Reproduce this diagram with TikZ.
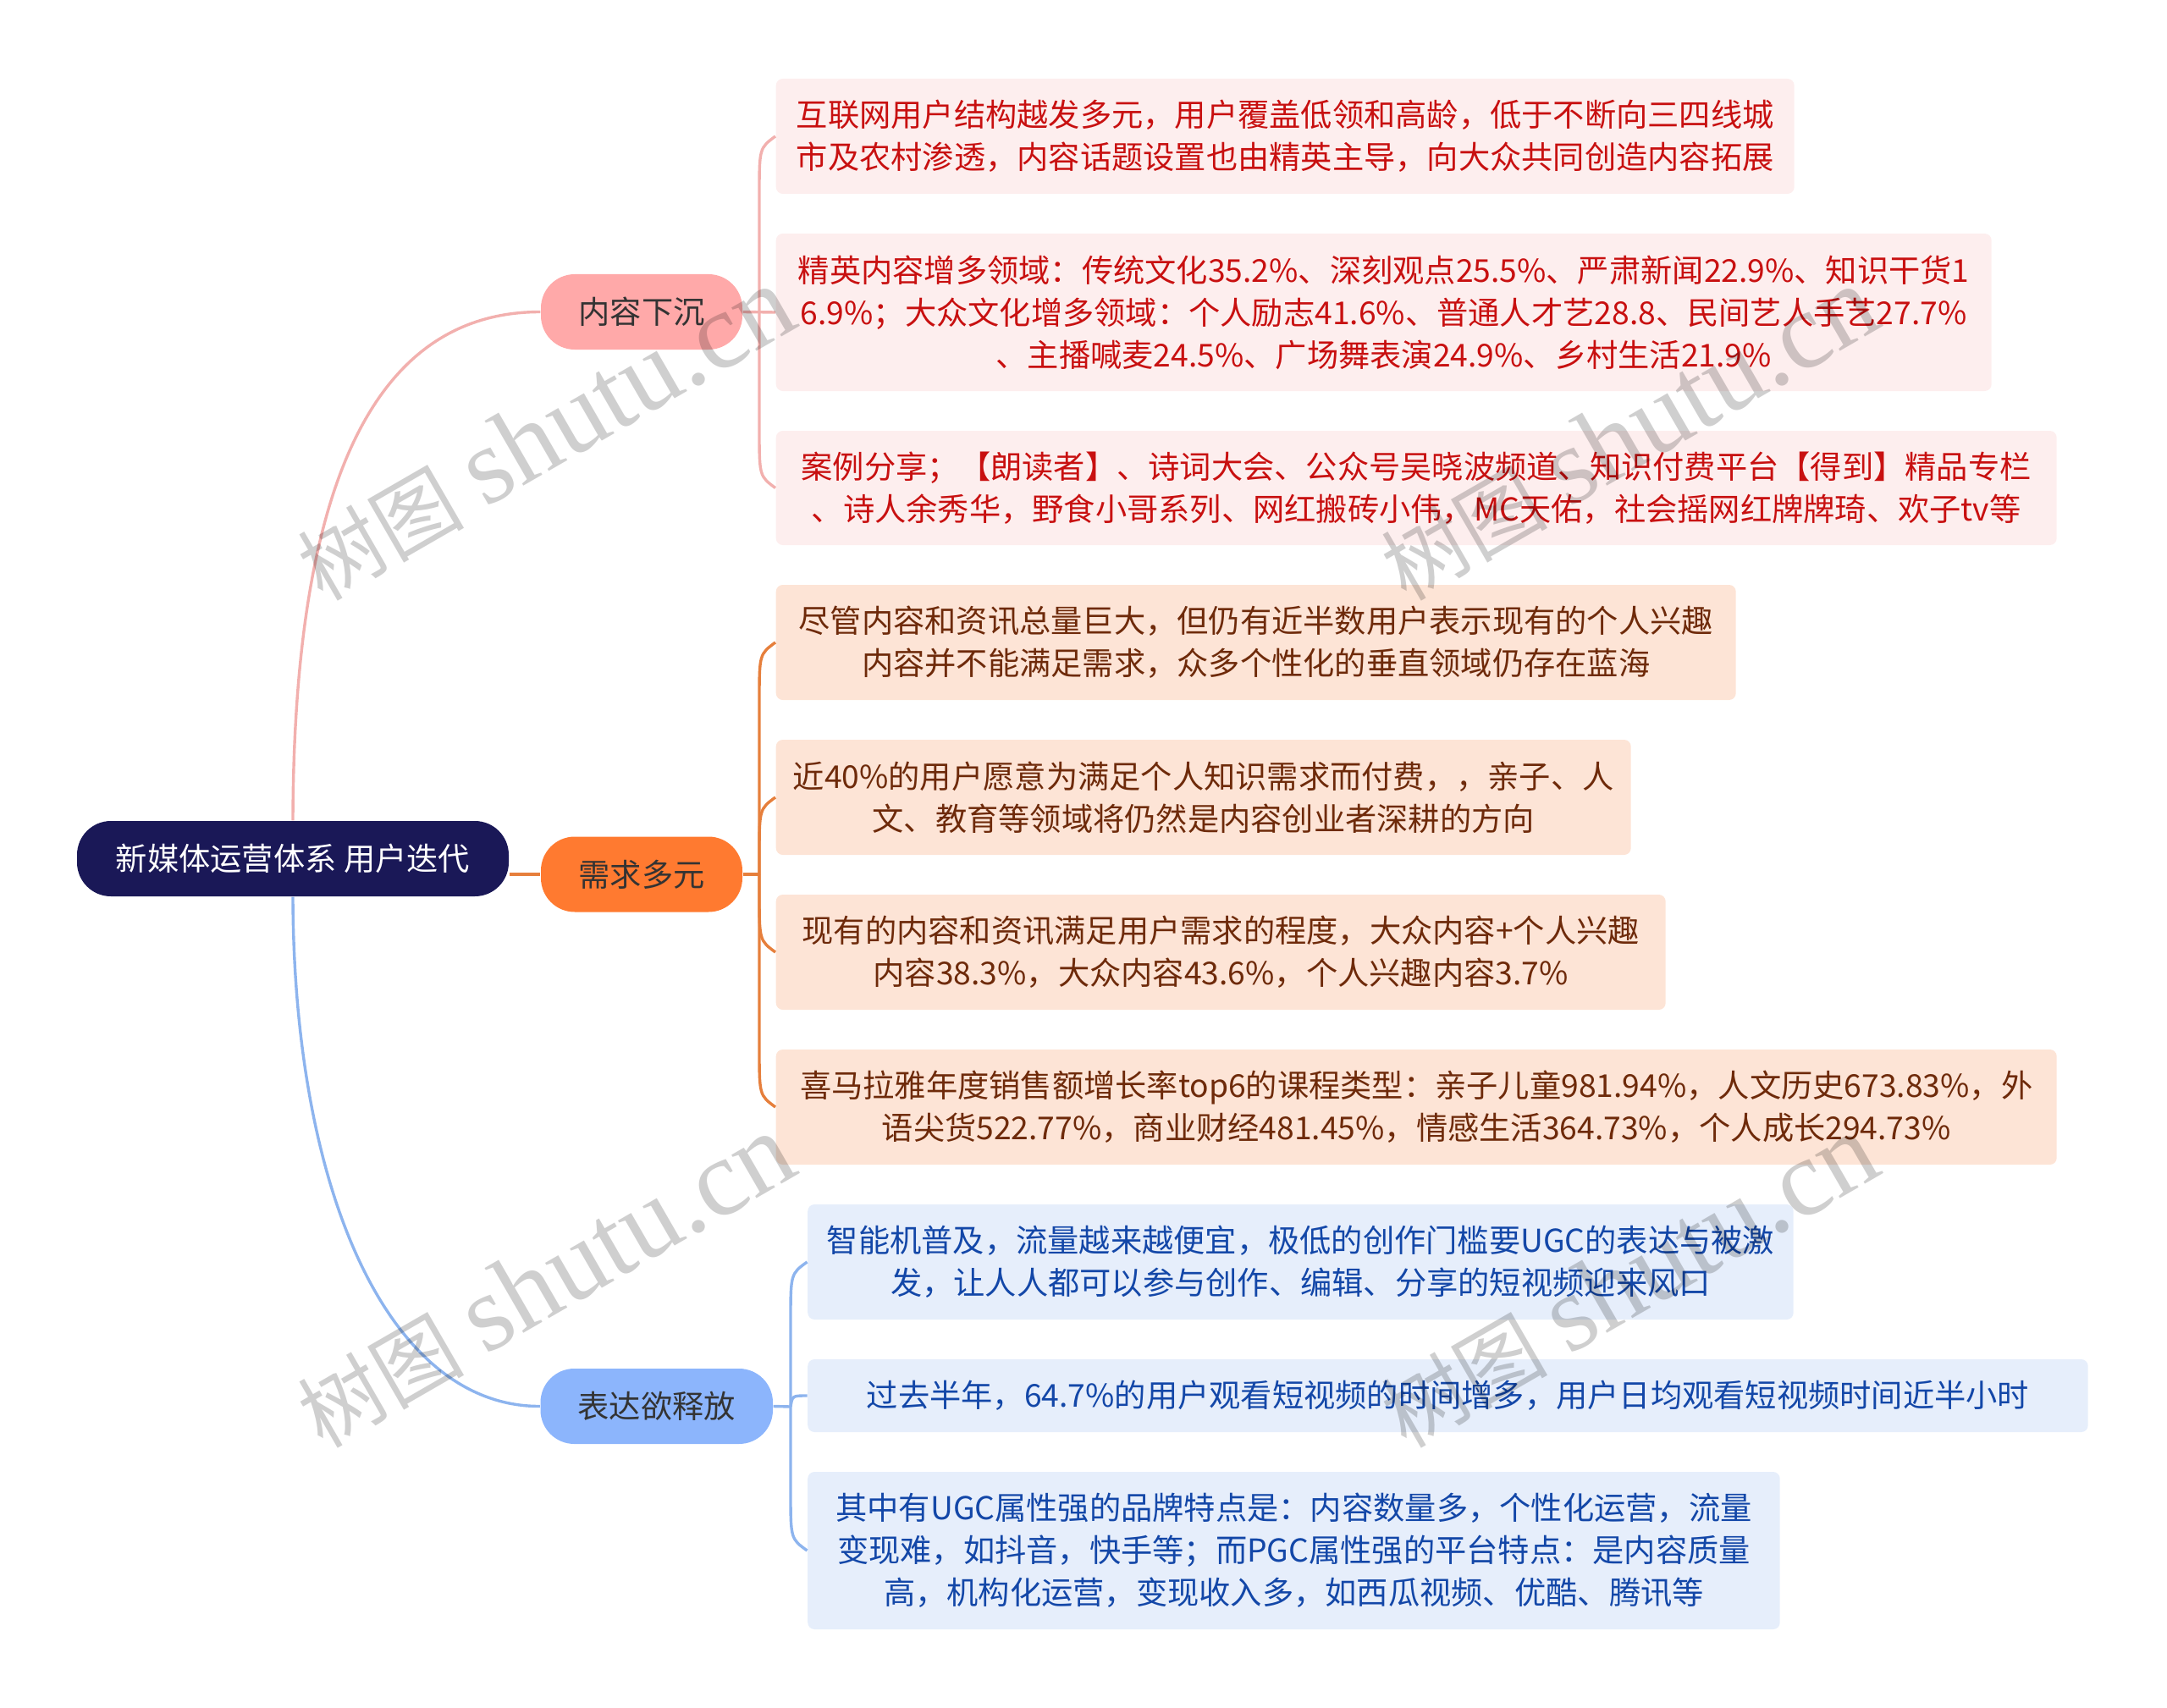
\documentclass[tikz,border=0pt]{standalone}
\usepackage{fontspec}
\setmainfont{Noto Sans CJK SC}
\newfontfamily\markfont{Liberation Serif}
\usetikzlibrary{calc}
\definecolor{rootfill}{HTML}{1A1857}
\definecolor{fillA}{HTML}{FFA9A9}
\definecolor{fillB}{HTML}{FF7A30}
\definecolor{fillC}{HTML}{8CB5FC}
\definecolor{paleA}{HTML}{FDEEEE}
\definecolor{paleB}{HTML}{FDE4D6}
\definecolor{paleC}{HTML}{E6EEFB}
\definecolor{inkA}{HTML}{C81010}
\definecolor{inkB}{HTML}{6E2A0A}
\definecolor{inkC}{HTML}{1347A8}
\definecolor{lineA}{HTML}{F2B0AE}
\definecolor{lineB}{HTML}{E67F3C}
\definecolor{lineC}{HTML}{8DB4EE}
\tikzset{
	body/.style={font=\fontsize{10.6}{14.2}\selectfont, align=center, inner sep=0pt},
	roottopic/.style={body, fill=rootfill, text=white, rounded corners=.4cm},
	topic/.style={body, text=black!80, rounded corners=.4cm},
	detail/.style={body, anchor=west, rounded corners=.08cm},
	link/.style={line width=.034cm},
	watermark/.style={text=black, text opacity=.19, rotate=30, inner sep=0pt}
}
\begin{document}
\begin{tikzpicture}[x=1cm,y=-1cm]
	\useasboundingbox (0,0) rectangle (25.6,20.18);
	% connectors first, boxes on top
	\coordinate (tipA) at (8.97,3.685);
	\coordinate (tipB) at (8.97,10.33);
	\coordinate (tipC) at (9.34,16.62);
	% main topics
	\node[roottopic, minimum width=5.1cm, minimum height=.89cm] (root) at (3.46,10.145) {新媒体运营体系 用户迭代};
	\node[topic, fill=fillA, minimum width=2.38cm, minimum height=.89cm] (down) at (7.58,3.685) {内容下沉};
	\node[topic, fill=fillB, minimum width=2.38cm, minimum height=.89cm] (need) at (7.58,10.33) {需求多元};
	\node[topic, fill=fillC, minimum width=2.745cm, minimum height=.89cm] (voice) at (7.7575,16.615) {表达欲释放};
	% red group
	\node[detail, fill=paleA, text=inkA, minimum width=12.03cm, minimum height=1.36cm] (a1) at (9.16,1.61) {互联网用户结构越发多元，用户覆盖低领和高龄，低于不断向三四线城\\市及农村渗透，内容话题设置也由精英主导，向大众共同创造内容拓展};
	\node[detail, fill=paleA, text=inkA, minimum width=14.36cm, minimum height=1.86cm] (a2) at (9.16,3.69) {精英内容增多领域：传统文化35.2\%、深刻观点25.5\%、严肃新闻22.9\%、知识干货1\\6.9\%；大众文化增多领域：个人励志41.6\%、普通人才艺28.8、民间艺人手艺27.7\%\\、主播喊麦24.5\%、广场舞表演24.9\%、乡村生活21.9\%};
	\node[detail, fill=paleA, text=inkA, minimum width=15.13cm, minimum height=1.35cm] (a3) at (9.16,5.765) {案例分享；【朗读者】、诗词大会、公众号吴晓波频道、知识付费平台【得到】精品专栏\\、诗人余秀华，野食小哥系列、网红搬砖小伟，MC天佑，社会摇网红牌牌琦、欢子tv等};
	% orange group
	\node[detail, fill=paleB, text=inkB, minimum width=11.34cm, minimum height=1.36cm] (b1) at (9.16,7.59) {尽管内容和资讯总量巨大，但仍有近半数用户表示现有的个人兴趣\\内容并不能满足需求，众多个性化的垂直领域仍存在蓝海};
	\node[detail, fill=paleB, text=inkB, minimum width=10.1cm, minimum height=1.36cm] (b2) at (9.16,9.42) {近40\%的用户愿意为满足个人知识需求而付费，，亲子、人\\文、教育等领域将仍然是内容创业者深耕的方向};
	\node[detail, fill=paleB, text=inkB, minimum width=10.51cm, minimum height=1.36cm] (b3) at (9.16,11.25) {现有的内容和资讯满足用户需求的程度，大众内容+个人兴趣\\内容38.3\%，大众内容43.6\%，个人兴趣内容3.7\%};
	\node[detail, fill=paleB, text=inkB, minimum width=15.13cm, minimum height=1.36cm] (b4) at (9.16,13.08) {喜马拉雅年度销售额增长率top6的课程类型：亲子儿童981.94\%，人文历史673.83\%，外\\语尖货522.77\%，商业财经481.45\%，情感生活364.73\%，个人成长294.73\%};
	% blue group
	\node[detail, fill=paleC, text=inkC, minimum width=11.645cm, minimum height=1.36cm] (c1) at (9.535,14.91) {智能机普及，流量越来越便宜，极低的创作门槛要UGC的表达与被激\\发，让人人都可以参与创作、编辑、分享的短视频迎来风口};
	\node[detail, fill=paleC, text=inkC, minimum width=15.125cm, minimum height=.86cm] (c2) at (9.535,16.49) {过去半年，64.7\%的用户观看短视频的时间增多，用户日均观看短视频时间近半小时};
	\node[detail, fill=paleC, text=inkC, minimum width=11.485cm, minimum height=1.86cm] (c3) at (9.535,18.32) {其中有UGC属性强的品牌特点是：内容数量多，个性化运营，流量\\变现难，如抖音，快手等；而PGC属性强的平台特点：是内容质量\\高，机构化运营，变现收入多，如西瓜视频、优酷、腾讯等};
	% root to topics
	\draw[link, lineA] (root.north) .. controls (3.47,6.2) and (4.2,3.685) .. (down.west);
	\draw[link, lineB] (root.east |- need.west) -- (need.west);
	\draw[link, lineC] (root.south) .. controls (3.47,14.1) and (4.6,16.62) .. (voice.west);
	% topics to details
	\draw[link, lineA] (down.east) -- (a2.west);
	\foreach \b/\s in {a1/.7,a3/-.7}
		\draw[link, lineA] (tipA) -- ($(tipA |- \b.west)+(0,\s)$) .. controls ($(tipA |- \b.west)+(0,.2*\s)$) .. (\b.west);
	\draw[link, lineB] (need.east) -- (tipB);
	\foreach \b/\s in {b1/.7,b2/.7,b3/-.7,b4/-.7}
		\draw[link, lineB] (tipB) -- ($(tipB |- \b.west)+(0,\s)$) .. controls ($(tipB |- \b.west)+(0,.2*\s)$) .. (\b.west);
	\draw[link, lineC] (voice.east) -- (tipC);
	\foreach \b/\s in {c1/.7,c3/-.7}
		\draw[link, lineC] (tipC) -- ($(tipC |- \b.west)+(0,\s)$) .. controls ($(tipC |- \b.west)+(0,.2*\s)$) .. (\b.west);
	\draw[link, lineC] (tipC) .. controls (9.36,16.49) .. (c2.west);
	% marks over everything
	\foreach \n/\p in {w1/{6.44,5.13},w2/{19.24,5.13},w3/{6.44,15.14},w4/{19.24,15.14}}
		\node[watermark] (\n) at (\p) {\fontsize{28}{28}\selectfont 树图\hspace{.25em}\markfont\fontsize{36.6}{36.6}\selectfont shutu.cn};
\end{tikzpicture}
\end{document}
